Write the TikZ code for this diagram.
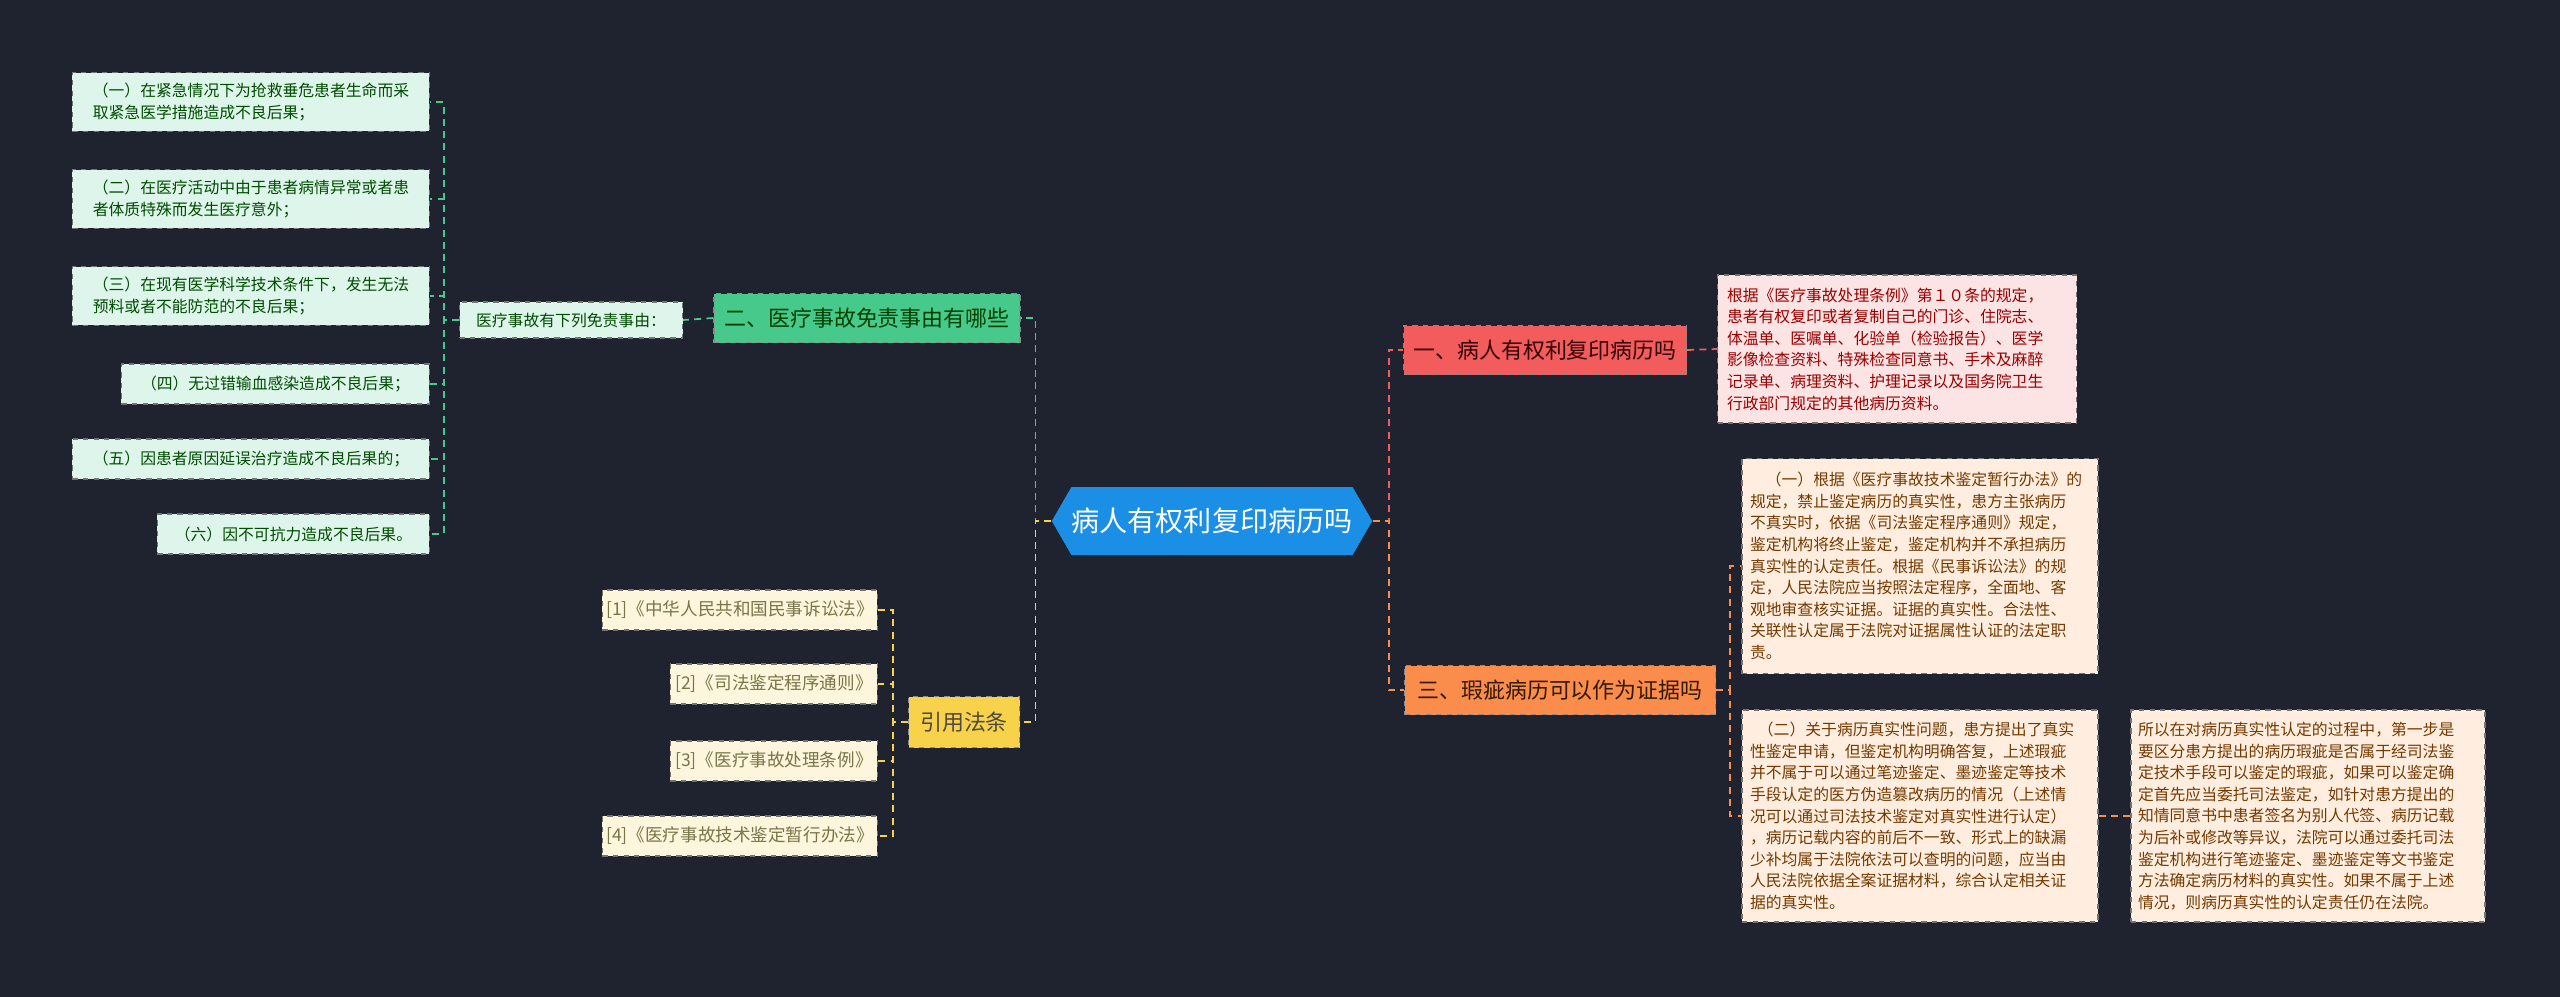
\documentclass[tikz,border=0pt]{standalone}
\usepackage{fontspec}
\setmainfont{Noto Sans CJK SC}
\usetikzlibrary{shapes.symbols}
\definecolor{bg}{HTML}{1F2330}
\definecolor{cblue}{HTML}{1B8FE6}
\definecolor{cred}{HTML}{F25C5C}
\definecolor{corange}{HTML}{FA8C4C}
\definecolor{cgreen}{HTML}{47C98B}
\definecolor{cyellow}{HTML}{F7D24A}
\definecolor{lred}{HTML}{FDE4E4}
\definecolor{lorange}{HTML}{FFEEDF}
\definecolor{lgreen}{HTML}{DDF5EA}
\definecolor{lyellow}{HTML}{FDF6DC}
\tikzset{
  box/.style={draw=black!55, dashed, line width=0.6pt, inner sep=0pt, align=left, font=\fontsize{9}{12.3}\selectfont},
  topic/.style={draw=black!45, dashed, line width=0.6pt, inner sep=0pt, font=\fontsize{12.5}{15}\selectfont},
  link/.style={dashed, line width=1pt, dash pattern=on 4pt off 3pt},
}
\begin{document}
\begin{tikzpicture}[x=0.2mm, y=-0.2mm]
    % background
    \fill[bg] (0,0) rectangle (2560,997);
    \useasboundingbox (0,0) rectangle (2560,997);

    % central topic
    \node[signal, signal to=west and east, signal pointer angle=120, fill=cblue, text=white,
          minimum width=319*0.2mm, minimum height=68*0.2mm, inner sep=0pt,
          font=\fontsize{16}{18}\selectfont] (ctr) at (1212,521) {病人有权利复印病历吗};

    % first branch
    \node[topic, fill=cred, text=black!80!red, minimum width=283*0.2mm, minimum height=49*0.2mm] (q1) at (1545,350) {一、病人有权利复印病历吗};
    \node[box, fill=lred, text=red!60!black, minimum width=359*0.2mm, minimum height=148*0.2mm, text width=340*0.2mm] (q1a) at (1897,349)
      {根据《医疗事故处理条例》第１０条的规定，\\患者有权复印或者复制自己的门诊、住院志、\\体温单、医嘱单、化验单（检验报告）、医学\\影像检查资料、特殊检查同意书、手术及麻醉\\记录单、病理资料、护理记录以及国务院卫生\\行政部门规定的其他病历资料。};

    % third branch
    \node[topic, fill=corange, text=black!80!orange, minimum width=311*0.2mm, minimum height=49*0.2mm] (q3) at (1560,690) {三、瑕疵病历可以作为证据吗};
    \node[box, fill=lorange, text=orange!45!black, minimum width=356*0.2mm, minimum height=215*0.2mm, text width=340*0.2mm] (q3a) at (1920,566)
      {\hspace*{1em}（一）根据《医疗事故技术鉴定暂行办法》的\\规定，禁止鉴定病历的真实性，患方主张病历\\不真实时，依据《司法鉴定程序通则》规定，\\鉴定机构将终止鉴定，鉴定机构并不承担病历\\真实性的认定责任。根据《民事诉讼法》的规\\定，人民法院应当按照法定程序，全面地、客\\观地审查核实证据。证据的真实性。合法性、\\关联性认定属于法院对证据属性认证的法定职\\责。};
    \node[box, fill=lorange, text=orange!45!black, minimum width=356*0.2mm, minimum height=212*0.2mm, text width=340*0.2mm] (q3b) at (1920,816)
      {\hspace*{0.5em}（二）关于病历真实性问题，患方提出了真实\\性鉴定申请，但鉴定机构明确答复，上述瑕疵\\并不属于可以通过笔迹鉴定、墨迹鉴定等技术\\手段认定的医方伪造篡改病历的情况（上述情\\况可以通过司法技术鉴定对真实性进行认定）\\，病历记载内容的前后不一致、形式上的缺漏\\少补均属于法院依法可以查明的问题，应当由\\人民法院依据全案证据材料，综合认定相关证\\据的真实性。};
    \node[box, fill=lorange, text=orange!45!black, minimum width=354*0.2mm, minimum height=212*0.2mm, text width=340*0.2mm] (q3c) at (2308,816)
      {所以在对病历真实性认定的过程中，第一步是\\要区分患方提出的病历瑕疵是否属于经司法鉴\\定技术手段可以鉴定的瑕疵，如果可以鉴定确\\定首先应当委托司法鉴定，如针对患方提出的\\知情同意书中患者签名为别人代签、病历记载\\为后补或修改等异议，法院可以通过委托司法\\鉴定机构进行笔迹鉴定、墨迹鉴定等文书鉴定\\方法确定病历材料的真实性。如果不属于上述\\情况，则病历真实性的认定责任仍在法院。};

    % second branch
    \node[topic, fill=cgreen, text=black!75!green, minimum width=306*0.2mm, minimum height=49*0.2mm] (q2) at (867,318) {二、医疗事故免责事由有哪些};
    \node[box, fill=lgreen, text=black!70!green, minimum width=223*0.2mm, minimum height=36*0.2mm, align=center] (q2a) at (571,320) {医疗事故有下列免责事由：};
    \foreach \name/\y/\w/\txt in {
        e1/102/357/{（一）在紧急情况下为抢救垂危患者生命而采\\取紧急医学措施造成不良后果；},
        e2/199/357/{（二）在医疗活动中由于患者病情异常或者患\\者体质特殊而发生医疗意外；},
        e3/296/357/{（三）在现有医学科学技术条件下，发生无法\\预料或者不能防范的不良后果；},
        e4/384/308/{（四）无过错输血感染造成不良后果；},
        e5/459/357/{（五）因患者原因延误治疗造成不良后果的；},
        e6/534/272/{（六）因不可抗力造成不良后果。}}
      \node[box, fill=lgreen, text=black!70!green, anchor=east, minimum width=\w*0.2mm, minimum height=40*0.2mm,
            inner xsep=8pt, inner ysep=6pt] (\name) at (430,\y) {\txt};

    % cited laws
    \node[topic, fill=cyellow, text=black!80!yellow, minimum width=111*0.2mm, minimum height=51*0.2mm] (q4) at (964,722) {引用法条};
    \foreach \name/\y/\w/\txt in {
        r1/610/275/{[1]《中华人民共和国民事诉讼法》},
        r2/684/207/{[2]《司法鉴定程序通则》},
        r3/761/207/{[3]《医疗事故处理条例》},
        r4/836/275/{[4]《医疗事故技术鉴定暂行办法》}}
      \node[box, fill=lyellow, text=yellow!40!black, anchor=east, minimum width=\w*0.2mm, minimum height=40*0.2mm,
            align=center, font=\fontsize{10}{12}\selectfont] (\name) at (878,\y) {\txt};

    % connectors
    \draw[link, cred] (ctr.east) -- ++(16,0) |- (q1.west);
    \draw[link, corange] (ctr.east) -- ++(16,0) |- (q3.west);
    \draw[link, cgreen] (ctr.west) -- ++(-16,0) |- (q2.east);
    \draw[link, cyellow] (ctr.west) -- ++(-16,0) |- (q4.east);
    \draw[link, cred] (q1.east) -- (q1a.west);
    \draw[link, corange] (q3.east) -- ++(14,0) |- (q3a.west);
    \draw[link, corange] (q3.east) -- ++(14,0) |- (q3b.west);
    \draw[link, corange] (q3b.east) -- (q3c.west);
    \draw[link, cgreen] (q2.west) -- (q2a.east);
    \foreach \name in {e1,e2,e3,e4,e5,e6}
      \draw[link, cgreen] (q2a.west) -- ++(-15,0) |- (\name.east);
    \foreach \name in {r1,r2,r3,r4}
      \draw[link, cyellow] (q4.west) -- ++(-15,0) |- (\name.east);
\end{tikzpicture}
\end{document}
